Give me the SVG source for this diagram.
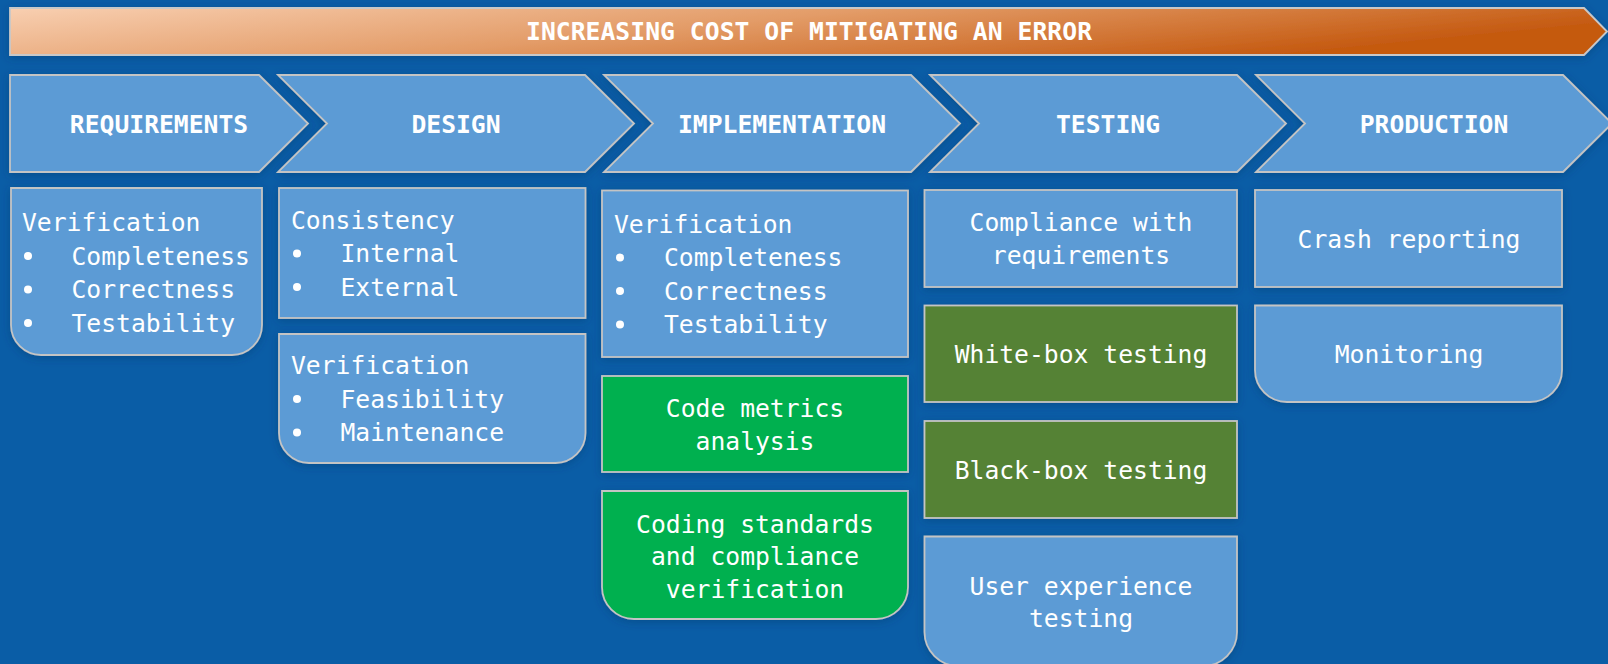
<svg xmlns="http://www.w3.org/2000/svg" width="1608" height="664" viewBox="0 0 1608 664">
  <defs>
    <linearGradient id="costGrad" x1="0" y1="0" x2="1" y2="0.3">
      <stop offset="0" stop-color="#F8CFB1"/>
      <stop offset="0.5" stop-color="#E39C68"/>
      <stop offset="1" stop-color="#C55A11"/>
    </linearGradient>
    <filter id="sh" x="-10%" y="-20%" width="120%" height="150%">
      <feDropShadow dx="0" dy="2" stdDeviation="4" flood-color="#02386e" flood-opacity="0.45"/>
    </filter>
    <style>
      .bg { fill: #0A5DA6; }
      .chev { fill: #5B9BD5; stroke: #C4C4C4; stroke-width: 1.8; filter: url(#sh); }
      .box { fill: #5B9BD5; stroke: #C4C4C4; stroke-width: 1.8; filter: url(#sh); }
      .box.code { fill: #00B050; }
      .box.test { fill: #548235; }
      .bar { fill: url(#costGrad); stroke: #C8C8C8; stroke-width: 1.8; filter: url(#sh); }
      text { font-family: "DejaVu Sans Mono", "Liberation Mono", monospace; fill: #FFFFFF; font-size: 24.7px; }
      .hdr { font-weight: bold; text-anchor: middle; }
      .c { text-anchor: middle; }
      .dot { fill: #FFFFFF; }
    </style>
  </defs>

  <rect class="bg" x="0" y="0" width="1608" height="664"/>

  <!-- cost banner -->
  <g id="cost-banner">
    <path class="bar" d="M10,8 H1584 L1607,31.5 L1584,55 H10 Z"/>
    <text class="hdr" x="809" y="39.5" font-size="23.5" textLength="566" lengthAdjust="spacing">INCREASING COST OF MITIGATING AN ERROR</text>
  </g>

  <!-- phase chevrons -->
  <g id="phase-requirements">
    <path class="chev" d="M10,75 H259 L308,123.5 L259,172 H10 Z"/>
    <text class="hdr" x="159" y="132.5">REQUIREMENTS</text>
  </g>
  <g id="phase-design">
    <path class="chev" d="M278,75 H585 L634,123.5 L585,172 H278 L327,123.5 Z"/>
    <text class="hdr" x="456" y="132.5">DESIGN</text>
  </g>
  <g id="phase-implementation">
    <path class="chev" d="M604,75 H911 L960,123.5 L911,172 H604 L653,123.5 Z"/>
    <text class="hdr" x="782" y="132.5">IMPLEMENTATION</text>
  </g>
  <g id="phase-testing">
    <path class="chev" d="M930,75 H1237 L1286,123.5 L1237,172 H930 L979,123.5 Z"/>
    <text class="hdr" x="1108" y="132.5">TESTING</text>
  </g>
  <g id="phase-production">
    <path class="chev" d="M1256,75 H1563 L1612,123.5 L1563,172 H1256 L1305,123.5 Z"/>
    <text class="hdr" x="1434" y="132.5">PRODUCTION</text>
  </g>

  <!-- requirements column -->
  <g id="req-verification">
    <path class="box" d="M11,188 H262 V325 A30,30 0 0 1 232,355 H41 A30,30 0 0 1 11,325 Z"/>
    <text x="22" y="231">Verification</text>
    <circle class="dot" cx="28" cy="256" r="4"/>
    <circle class="dot" cx="28" cy="289.5" r="4"/>
    <circle class="dot" cx="28" cy="323" r="4"/>
    <text x="71.5" y="264.5">Completeness</text>
    <text x="71.5" y="298">Correctness</text>
    <text x="71.5" y="331.5">Testability</text>
  </g>

  <!-- design column -->
  <g id="design-consistency">
    <rect class="box" x="279" y="188" width="306.5" height="130"/>
    <text x="291" y="229">Consistency</text>
    <circle class="dot" cx="297" cy="253.5" r="4"/>
    <circle class="dot" cx="297" cy="287" r="4"/>
    <text x="340.5" y="262">Internal</text>
    <text x="340.5" y="295.5">External</text>
  </g>
  <g id="design-verification">
    <path class="box" d="M279,334 H585.5 V433 A30,30 0 0 1 555.5,463 H309 A30,30 0 0 1 279,433 Z"/>
    <text x="291" y="374">Verification</text>
    <circle class="dot" cx="297" cy="399" r="4"/>
    <circle class="dot" cx="297" cy="432.5" r="4"/>
    <text x="340.5" y="407.5">Feasibility</text>
    <text x="340.5" y="441">Maintenance</text>
  </g>

  <!-- implementation column -->
  <g id="impl-verification">
    <rect class="box" x="602" y="190.5" width="306" height="166.5"/>
    <text x="614" y="232.5">Verification</text>
    <circle class="dot" cx="620" cy="257.5" r="4"/>
    <circle class="dot" cx="620" cy="291" r="4"/>
    <circle class="dot" cx="620" cy="324.5" r="4"/>
    <text x="664" y="266">Completeness</text>
    <text x="664" y="299.5">Correctness</text>
    <text x="664" y="333">Testability</text>
  </g>
  <g id="impl-code-metrics">
    <rect class="box code" x="602" y="376" width="306" height="96"/>
    <text class="c" x="755" y="416.5">Code metrics</text>
    <text class="c" x="755" y="450">analysis</text>
  </g>
  <g id="impl-coding-standards">
    <path class="box code" d="M602,491 H908 V587 A32,32 0 0 1 876,619 H634 A32,32 0 0 1 602,587 Z"/>
    <text class="c" x="755" y="532.5">Coding standards</text>
    <text class="c" x="755" y="565">and compliance</text>
    <text class="c" x="755" y="597.5">verification</text>
  </g>

  <!-- testing column -->
  <g id="test-compliance">
    <rect class="box" x="924.5" y="190" width="312.5" height="97"/>
    <text class="c" x="1081" y="231">Compliance with</text>
    <text class="c" x="1081" y="264">requirements</text>
  </g>
  <g id="test-white-box">
    <rect class="box test" x="924.5" y="305.5" width="312.5" height="96.5"/>
    <text class="c" x="1081" y="363">White-box testing</text>
  </g>
  <g id="test-black-box">
    <rect class="box test" x="924.5" y="421" width="312.5" height="97"/>
    <text class="c" x="1081" y="479">Black-box testing</text>
  </g>
  <g id="test-user-experience">
    <path class="box" d="M924.5,536.5 H1237 V632 A34,34 0 0 1 1203,666 H958.5 A34,34 0 0 1 924.5,632 Z"/>
    <text class="c" x="1081" y="595">User experience</text>
    <text class="c" x="1081" y="627">testing</text>
  </g>

  <!-- production column -->
  <g id="prod-crash-reporting">
    <rect class="box" x="1255" y="190" width="307" height="97"/>
    <text class="c" x="1409" y="248">Crash reporting</text>
  </g>
  <g id="prod-monitoring">
    <path class="box" d="M1255,305.5 H1562 V370 A32,32 0 0 1 1530,402 H1287 A32,32 0 0 1 1255,370 Z"/>
    <text class="c" x="1409" y="363">Monitoring</text>
  </g>

  <!-- no connectors between nodes -->
  <g id="connectors"/>
</svg>
